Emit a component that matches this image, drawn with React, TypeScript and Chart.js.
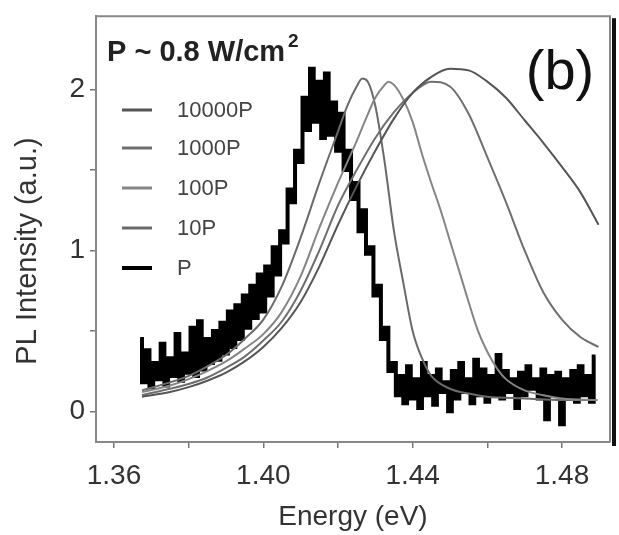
import React, { useEffect, useRef } from "react";
import { Chart, registerables } from "chart.js";
Chart.register(...registerables);

// ---- data ----
const seriesLabels = ["10000P", "1000P", "100P", "10P", "P"];
const seriesColors = ["#555555", "#6f6f6f", "#858585", "#6a6a6a", "#000000"];

const xTickLabels = ["1.36", "1.40", "1.44", "1.48"];
const yTickLabels = ["0", "1", "2"];

const e10P = [1.3675, 1.375, 1.38, 1.385, 1.39, 1.395, 1.4, 1.405, 1.41, 1.415, 1.42, 1.4225, 1.425, 1.4265, 1.428, 1.43, 1.4325, 1.435, 1.4375, 1.44, 1.4425, 1.445, 1.45, 1.455, 1.46, 1.47, 1.48, 1.4895];
const i10P = [0.13, 0.18, 0.22, 0.28, 0.35, 0.45, 0.57, 0.78, 1.08, 1.42, 1.74, 1.9, 2.02, 2.07, 2.05, 1.9, 1.55, 1.12, 0.8, 0.5, 0.33, 0.22, 0.14, 0.11, 0.09, 0.08, 0.07, 0.07];

const e100P = [1.3675, 1.375, 1.38, 1.385, 1.39, 1.395, 1.4, 1.405, 1.41, 1.415, 1.42, 1.425, 1.4275, 1.43, 1.4325, 1.4335, 1.435, 1.4375, 1.44, 1.4425, 1.445, 1.4475, 1.45, 1.4525, 1.455, 1.4575, 1.46, 1.4625, 1.465, 1.47, 1.475, 1.48, 1.4895];
const i100P = [0.12, 0.16, 0.2, 0.25, 0.31, 0.39, 0.48, 0.62, 0.84, 1.14, 1.42, 1.68, 1.82, 1.95, 2.03, 2.05, 2.03, 1.94, 1.8, 1.6, 1.42, 1.25, 1.06, 0.87, 0.68, 0.5, 0.37, 0.27, 0.2, 0.13, 0.1, 0.08, 0.07];

const eBroad = [1.3675, 1.375, 1.38, 1.385, 1.39, 1.395, 1.4, 1.405, 1.41, 1.415, 1.42, 1.425, 1.43, 1.435, 1.44, 1.445, 1.45, 1.455, 1.46, 1.465, 1.47, 1.475, 1.48, 1.485, 1.4898];
const i1000P = [0.1, 0.14, 0.17, 0.21, 0.27, 0.34, 0.44, 0.56, 0.75, 1.0, 1.28, 1.5, 1.7, 1.86, 1.98, 2.05, 2.02, 1.85, 1.58, 1.3, 1.0, 0.74, 0.57, 0.46, 0.4];
const i10000P = [0.09, 0.12, 0.15, 0.19, 0.24, 0.31, 0.4, 0.52, 0.68, 0.9, 1.16, 1.4, 1.62, 1.82, 1.98, 2.08, 2.13, 2.12, 2.05, 1.95, 1.81, 1.67, 1.52, 1.36, 1.16];

// P (low excitation) measured spectrum, 1 meV steps from 1.367 eV
const pStartE = 1.367;
const pStepE = 0.001;
const iP = [
  0.45, 0.18, 0.38, 0.15, 0.3, 0.2, 0.42, 0.16, 0.33, 0.22,
  0.48, 0.19, 0.36, 0.24, 0.52, 0.22, 0.56, 0.26, 0.45, 0.3,
  0.5, 0.32, 0.55, 0.36, 0.62, 0.4, 0.66, 0.45, 0.72, 0.52,
  0.78, 0.58, 0.85, 0.62, 0.9, 0.72, 1.02, 0.85, 1.12, 1.05,
  1.38, 1.3, 1.62, 1.55, 1.95, 1.75, 2.13, 1.8, 2.05, 1.7,
  2.1, 1.72, 1.92, 1.62, 1.85, 1.5, 1.62, 1.32, 1.42, 1.12,
  1.25, 0.98, 1.02, 0.72, 0.78, 0.45, 0.52, 0.25, 0.3, 0.1,
  0.22, 0.05, 0.28, 0.08, 0.2, 0.02, 0.3, 0.1, 0.22, 0.04,
  0.26, 0.12, 0.18, 0.0, 0.25, 0.08, 0.3, 0.12, 0.2, 0.05,
  0.32, 0.1, 0.26, 0.06, 0.22, 0.1, 0.35, 0.08, 0.25, 0.12,
  0.2, 0.02, 0.24, 0.1, 0.28, 0.14, 0.2, 0.08, 0.26, -0.05,
  0.22, 0.1, 0.24, -0.08, 0.2, 0.08, 0.25, 0.06, 0.28, 0.1,
  0.22, 0.06, 0.34,
];

const FONT = '"Liberation Sans", Arial, Helvetica, sans-serif';

const zip = (xs: number[], ys: number[]) => ys.map((y, i) => ({ x: xs[i], y }));

const decoPlugin = {
  id: "deco",
  afterDraw(chart: any) {
    const ctx = chart.ctx as CanvasRenderingContext2D;
    const { left, right, top, bottom } = chart.chartArea;
    ctx.save();
    // frame top + right
    ctx.strokeStyle = "#888";
    ctx.lineWidth = 2;
    ctx.beginPath();
    ctx.moveTo(left, top);
    ctx.lineTo(right, top);
    ctx.lineTo(right, bottom);
    ctx.stroke();
    ctx.fillStyle = "#111";
    ctx.fillRect(right + 2, top + 2, 4, bottom - top + 2);

    // axis titles
    ctx.fillStyle = "#333";
    ctx.font = `28px ${FONT}`;
    ctx.textAlign = "center";
    ctx.textBaseline = "middle";
    ctx.fillText("Energy (eV)", (left + right) / 2, 517);
    ctx.save();
    ctx.translate(28, 251);
    ctx.rotate(-Math.PI / 2);
    ctx.font = `29px ${FONT}`;
    ctx.fillText("PL Intensity (a.u.)", 0, 0);
    ctx.restore();

    // annotation
    ctx.textAlign = "left";
    ctx.textBaseline = "alphabetic";
    ctx.fillStyle = "#222";
    ctx.font = `bold 29px ${FONT}`;
    const t = "P ~ 0.8 W/cm";
    ctx.fillText(t, 107, 61);
    const w = ctx.measureText(t).width;
    ctx.font = `bold 19px ${FONT}`;
    ctx.fillText("2", 107 + w + 3, 47);

    ctx.font = `56px ${FONT}`;
    ctx.textAlign = "center";
    ctx.fillStyle = "#111";
    ctx.fillText("(b)", 560, 89);

    // legend
    const rows = [110, 148, 188, 228, 268];
    ctx.font = `22px ${FONT}`;
    ctx.textAlign = "left";
    ctx.textBaseline = "middle";
    chart.data.datasets.forEach((ds: any, i: number) => {
      ctx.strokeStyle = ds.borderColor;
      ctx.lineWidth = i === 4 ? 4 : 3;
      ctx.beginPath();
      ctx.moveTo(122, rows[i]);
      ctx.lineTo(152, rows[i]);
      ctx.stroke();
      ctx.fillStyle = "#444";
      ctx.fillText(ds.label, 177, rows[i] + 1);
    });
    ctx.restore();
  },
};

export default function App() {
  const ref = useRef<HTMLCanvasElement>(null);
  useEffect(() => {
    if (!ref.current) return;
    const smooth = (label: string, color: string, data: any[]) => ({
      label,
      data,
      borderColor: color,
      backgroundColor: color,
      borderWidth: 2,
      pointRadius: 0,
      cubicInterpolationMode: "monotone" as const,
      fill: false,
      order: 1,
    });
    const pData = iP.map((y, i) => ({ x: +(pStartE + i * pStepE).toFixed(3), y }));
    const chart = new Chart(ref.current, {
      type: "line",
      data: {
        datasets: [
          smooth(seriesLabels[0], seriesColors[0], zip(eBroad, i10000P)),
          smooth(seriesLabels[1], seriesColors[1], zip(eBroad, i1000P)),
          smooth(seriesLabels[2], seriesColors[2], zip(e100P, i100P)),
          smooth(seriesLabels[3], seriesColors[3], zip(e10P, i10P)),
          {
            label: seriesLabels[4],
            data: pData,
            borderColor: seriesColors[4],
            backgroundColor: seriesColors[4],
            borderWidth: 4,
            pointRadius: 0,
            stepped: "middle" as const,
            fill: false,
            order: 10,
          },
        ],
      },
      options: {
        responsive: false,
        animation: false,
        layout: { padding: { top: 13, right: 9, left: 0, bottom: 0 } },
        plugins: { legend: { display: false }, tooltip: { enabled: false }, title: { display: false } },
        scales: {
          x: {
            type: "linear",
            min: 1.35518,
            max: 1.49287,
            afterFit: (s: any) => { s.height = 93; },
            border: { display: true, color: "#888", width: 2 },
            grid: { drawOnChartArea: false, drawTicks: true, tickLength: 6, color: "#777", lineWidth: 1.5 },
            ticks: {
              stepSize: 0.02,
              includeBounds: false,
              autoSkip: false,
              maxRotation: 0,
              color: "#333",
              padding: 11,
              font: { family: FONT, size: 28 },
              callback: (v: any) => {
                const k = Math.round(Number(v) * 100);
                const s = (k / 100).toFixed(2);
                return k % 4 === 0 && xTickLabels.includes(s) ? s : "";
              },
            },
          },
          y: {
            type: "linear",
            min: -0.191,
            max: 2.457,
            afterFit: (s: any) => { s.width = 96; },
            border: { display: true, color: "#888", width: 2 },
            grid: { drawOnChartArea: false, drawTicks: true, tickLength: 6, color: "#777", lineWidth: 1.5 },
            ticks: {
              stepSize: 0.5,
              includeBounds: false,
              autoSkip: false,
              color: "#333",
              padding: 5,
              font: { family: FONT, size: 28, lineHeight: 0.8 },
              callback: (v: any) => {
                const s = String(Number(v));
                return yTickLabels.includes(s) ? s : "";
              },
            },
          },
        },
      },
      plugins: [decoPlugin],
    });
    return () => chart.destroy();
  }, []);
  return (
    <div style={{ position: "absolute", left: 0, top: 0, width: 619, height: 535, background: "#fff" }}>
      <canvas ref={ref} width={619} height={535} />
    </div>
  );
}
